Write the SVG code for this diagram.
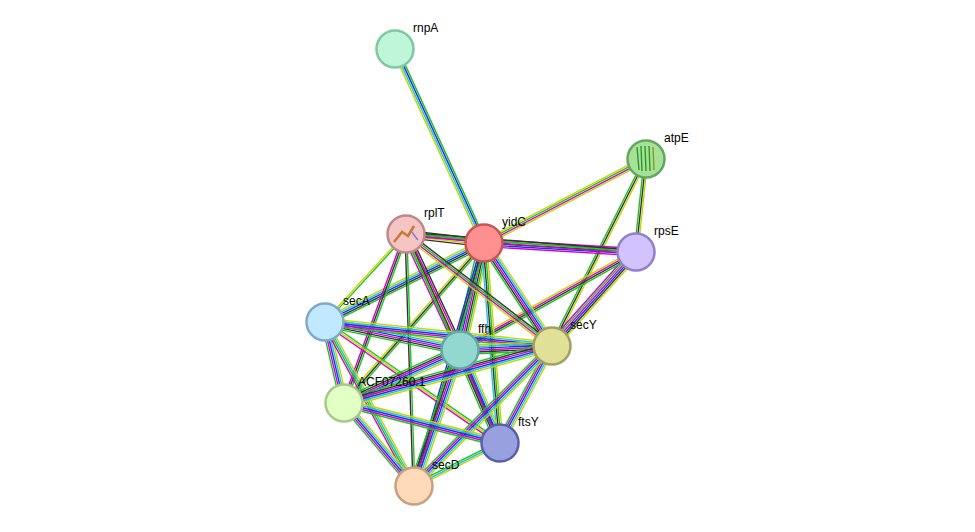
<svg xmlns="http://www.w3.org/2000/svg" width="975" height="532" viewBox="0 0 975 532">
<style>
line{stroke-width:1.4;fill:none}
.G{stroke:#22c022}.Y{stroke:#c4d600}.K{stroke:#333}.M{stroke:#d000d0}.C{stroke:#22c4d8}.B{stroke:#2030e0}
.n circle{stroke-width:2.5}
text{font-family:"Liberation Sans",Arial,sans-serif;font-size:12px;fill:#000}
</style>
<rect width="975" height="532" fill="#fff"/>
<g id="edges">
<g transform="translate(395,49) rotate(65.4)"><line class="G" x2="213.4" y1="-2.7" y2="-2.7"/><line class="B" x2="213.4" y1="-0.9" y2="-0.9"/><line class="C" x2="213.4" y1="0.9" y2="0.9"/><line class="Y" x2="213.4" y1="2.7" y2="2.7"/></g>
<g transform="translate(646,159) rotate(152.6)"><line class="Y" x2="182.5" y1="-2.7" y2="-2.7"/><line class="M" x2="182.5" y1="-0.9" y2="-0.9"/><line class="G" x2="182.5" y1="0.9" y2="0.9"/><line class="Y" x2="182.5" y1="2.7" y2="2.7"/></g>
<g transform="translate(646,159) rotate(96.1)"><line class="Y" x2="93.5" y1="-1.8" y2="-1.8"/><line class="K" x2="93.5"/><line class="G" x2="93.5" y1="1.8" y2="1.8"/></g>
<g transform="translate(646,159) rotate(116.7)"><line class="Y" x2="209.3" y1="-1.8" y2="-1.8"/><line class="K" x2="209.3"/><line class="G" x2="209.3" y1="1.8" y2="1.8"/></g>
<g transform="translate(406,234) rotate(6.6)"><line class="K" x2="78.5" y1="-3.6" y2="-3.6"/><line class="G" x2="78.5" y1="-1.8" y2="-1.8"/><line class="M" x2="78.5"/><line class="Y" x2="78.5" y1="1.8" y2="1.8"/><line class="K" x2="78.5" y1="3.6" y2="3.6"/></g>
<g transform="translate(484,243) rotate(3.4)"><line class="M" x2="152.3" y1="-3.6" y2="-3.6"/><line class="G" x2="152.3" y1="-1.8" y2="-1.8"/><line class="K" x2="152.3"/><line class="B" x2="152.3" y1="1.8" y2="1.8"/><line class="M" x2="152.3" y1="3.6" y2="3.6"/></g>
<g transform="translate(406,234) rotate(4.5)"><line class="K" x2="230.7" y1="-1.8" y2="-1.8"/><line class="G" x2="230.7"/><line class="M" x2="230.7" y1="1.8" y2="1.8"/></g>
<g transform="translate(636,252) rotate(131.8)"><line class="Y" x2="126" y1="-4.5" y2="-4.5"/><line class="K" x2="126" y1="-2.7" y2="-2.7"/><line class="B" x2="126" y1="-0.9" y2="-0.9"/><line class="M" x2="126" y1="0.9" y2="0.9"/><line class="G" x2="126" y1="2.7" y2="2.7"/><line class="M" x2="126" y1="4.5" y2="4.5"/></g>
<g transform="translate(636,252) rotate(150.9)"><line class="G" x2="201.4" y1="-2.7" y2="-2.7"/><line class="K" x2="201.4" y1="-0.9" y2="-0.9"/><line class="M" x2="201.4" y1="0.9" y2="0.9"/><line class="Y" x2="201.4" y1="2.7" y2="2.7"/></g>
<g transform="translate(484,243) rotate(56.6)"><line class="Y" x2="123.4" y1="-4.5" y2="-4.5"/><line class="C" x2="123.4" y1="-2.7" y2="-2.7"/><line class="B" x2="123.4" y1="-0.9" y2="-0.9"/><line class="M" x2="123.4" y1="0.9" y2="0.9"/><line class="K" x2="123.4" y1="2.7" y2="2.7"/><line class="G" x2="123.4" y1="4.5" y2="4.5"/></g>
<g transform="translate(484,243) rotate(102.6)"><line class="Y" x2="109.7" y1="-5.4" y2="-5.4"/><line class="G" x2="109.7" y1="-3.6" y2="-3.6"/><line class="K" x2="109.7" y1="-1.8" y2="-1.8"/><line class="M" x2="109.7"/><line class="B" x2="109.7" y1="1.8" y2="1.8"/><line class="C" x2="109.7" y1="3.6" y2="3.6"/><line class="G" x2="109.7" y1="5.4" y2="5.4"/></g>
<g transform="translate(484,243) rotate(153.6)"><line class="G" x2="177.5" y1="-3.6" y2="-3.6"/><line class="K" x2="177.5" y1="-1.8" y2="-1.8"/><line class="B" x2="177.5"/><line class="C" x2="177.5" y1="1.8" y2="1.8"/><line class="Y" x2="177.5" y1="3.6" y2="3.6"/></g>
<g transform="translate(484,243) rotate(131.2)"><line class="G" x2="212.6" y1="-1.8" y2="-1.8"/><line class="K" x2="212.6"/><line class="Y" x2="212.6" y1="1.8" y2="1.8"/></g>
<g transform="translate(484,243) rotate(85.4)"><line class="Y" x2="200.6" y1="-2.7" y2="-2.7"/><line class="G" x2="200.6" y1="-0.9" y2="-0.9"/><line class="K" x2="200.6" y1="0.9" y2="0.9"/><line class="C" x2="200.6" y1="2.7" y2="2.7"/></g>
<g transform="translate(484,243) rotate(106.1)"><line class="G" x2="252.9" y1="-1.8" y2="-1.8"/><line class="K" x2="252.9"/><line class="B" x2="252.9" y1="1.8" y2="1.8"/></g>
<g transform="translate(406,234) rotate(132.6)"><line class="G" x2="119.6" y1="-0.9" y2="-0.9"/><line class="Y" x2="119.6" y1="0.9" y2="0.9"/></g>
<g transform="translate(406,234) rotate(65)"><line class="K" x2="128" y1="-3.6" y2="-3.6"/><line class="M" x2="128" y1="-1.8" y2="-1.8"/><line class="Y" x2="128"/><line class="G" x2="128" y1="1.8" y2="1.8"/><line class="M" x2="128" y1="3.6" y2="3.6"/></g>
<g transform="translate(406,234) rotate(37.5)"><line class="K" x2="184" y1="-2.7" y2="-2.7"/><line class="G" x2="184" y1="-0.9" y2="-0.9"/><line class="M" x2="184" y1="0.9" y2="0.9"/><line class="Y" x2="184" y1="2.7" y2="2.7"/></g>
<g transform="translate(406,234) rotate(110.1)"><line class="G" x2="180" y1="-1.8" y2="-1.8"/><line class="K" x2="180"/><line class="M" x2="180" y1="1.8" y2="1.8"/></g>
<g transform="translate(406,234) rotate(65.8)"><line class="K" x2="229.2" y1="-0.9" y2="-0.9"/><line class="G" x2="229.2" y1="0.9" y2="0.9"/></g>
<g transform="translate(406,234) rotate(88.2)"><line class="G" x2="252.1" y1="-0.9" y2="-0.9"/><line class="K" x2="252.1" y1="0.9" y2="0.9"/></g>
<g transform="translate(325,322) rotate(11.7)"><line class="Y" x2="137.9" y1="-4.5" y2="-4.5"/><line class="C" x2="137.9" y1="-2.7" y2="-2.7"/><line class="B" x2="137.9" y1="-0.9" y2="-0.9"/><line class="M" x2="137.9" y1="0.9" y2="0.9"/><line class="K" x2="137.9" y1="2.7" y2="2.7"/><line class="G" x2="137.9" y1="4.5" y2="4.5"/></g>
<g transform="translate(325,322) rotate(6)"><line class="Y" x2="228.3" y1="-3.6" y2="-3.6"/><line class="C" x2="228.3" y1="-1.8" y2="-1.8"/><line class="B" x2="228.3"/><line class="M" x2="228.3" y1="1.8" y2="1.8"/><line class="G" x2="228.3" y1="3.6" y2="3.6"/></g>
<g transform="translate(325,322) rotate(76.8)"><line class="Y" x2="83.2" y1="-3.6" y2="-3.6"/><line class="C" x2="83.2" y1="-1.8" y2="-1.8"/><line class="B" x2="83.2"/><line class="M" x2="83.2" y1="1.8" y2="1.8"/><line class="G" x2="83.2" y1="3.6" y2="3.6"/></g>
<g transform="translate(325,322) rotate(34.7)"><line class="G" x2="212.8" y1="-1.8" y2="-1.8"/><line class="Y" x2="212.8"/><line class="M" x2="212.8" y1="1.8" y2="1.8"/></g>
<g transform="translate(325,322) rotate(61.5)"><line class="Y" x2="186.6" y1="-2.7" y2="-2.7"/><line class="C" x2="186.6" y1="-0.9" y2="-0.9"/><line class="G" x2="186.6" y1="0.9" y2="0.9"/><line class="M" x2="186.6" y1="2.7" y2="2.7"/></g>
<g transform="translate(460,350) rotate(-2.5)"><line class="Y" x2="92.1" y1="-4.5" y2="-4.5"/><line class="C" x2="92.1" y1="-2.7" y2="-2.7"/><line class="B" x2="92.1" y1="-0.9" y2="-0.9"/><line class="M" x2="92.1" y1="0.9" y2="0.9"/><line class="K" x2="92.1" y1="2.7" y2="2.7"/><line class="G" x2="92.1" y1="4.5" y2="4.5"/></g>
<g transform="translate(460,350) rotate(155.4)"><line class="Y" x2="127.5" y1="-4.5" y2="-4.5"/><line class="C" x2="127.5" y1="-2.7" y2="-2.7"/><line class="B" x2="127.5" y1="-0.9" y2="-0.9"/><line class="M" x2="127.5" y1="0.9" y2="0.9"/><line class="K" x2="127.5" y1="2.7" y2="2.7"/><line class="G" x2="127.5" y1="4.5" y2="4.5"/></g>
<g transform="translate(460,350) rotate(66.7)"><line class="Y" x2="101.2" y1="-4.5" y2="-4.5"/><line class="C" x2="101.2" y1="-2.7" y2="-2.7"/><line class="B" x2="101.2" y1="-0.9" y2="-0.9"/><line class="M" x2="101.2" y1="0.9" y2="0.9"/><line class="K" x2="101.2" y1="2.7" y2="2.7"/><line class="G" x2="101.2" y1="4.5" y2="4.5"/></g>
<g transform="translate(460,350) rotate(108.7)"><line class="Y" x2="143.6" y1="-4.5" y2="-4.5"/><line class="C" x2="143.6" y1="-2.7" y2="-2.7"/><line class="B" x2="143.6" y1="-0.9" y2="-0.9"/><line class="M" x2="143.6" y1="0.9" y2="0.9"/><line class="K" x2="143.6" y1="2.7" y2="2.7"/><line class="G" x2="143.6" y1="4.5" y2="4.5"/></g>
<g transform="translate(552,346) rotate(164.7)"><line class="Y" x2="215.7" y1="-4.5" y2="-4.5"/><line class="C" x2="215.7" y1="-2.7" y2="-2.7"/><line class="B" x2="215.7" y1="-0.9" y2="-0.9"/><line class="M" x2="215.7" y1="0.9" y2="0.9"/><line class="K" x2="215.7" y1="2.7" y2="2.7"/><line class="G" x2="215.7" y1="4.5" y2="4.5"/></g>
<g transform="translate(552,346) rotate(118.2)"><line class="Y" x2="110.1" y1="-3.6" y2="-3.6"/><line class="C" x2="110.1" y1="-1.8" y2="-1.8"/><line class="B" x2="110.1"/><line class="M" x2="110.1" y1="1.8" y2="1.8"/><line class="G" x2="110.1" y1="3.6" y2="3.6"/></g>
<g transform="translate(552,346) rotate(134.6)"><line class="Y" x2="196.6" y1="-3.6" y2="-3.6"/><line class="C" x2="196.6" y1="-1.8" y2="-1.8"/><line class="B" x2="196.6"/><line class="M" x2="196.6" y1="1.8" y2="1.8"/><line class="G" x2="196.6" y1="3.6" y2="3.6"/></g>
<g transform="translate(344,403) rotate(14.4)"><line class="Y" x2="161" y1="-3.6" y2="-3.6"/><line class="C" x2="161" y1="-1.8" y2="-1.8"/><line class="B" x2="161"/><line class="M" x2="161" y1="1.8" y2="1.8"/><line class="G" x2="161" y1="3.6" y2="3.6"/></g>
<g transform="translate(344,403) rotate(49.9)"><line class="Y" x2="108.6" y1="-3.6" y2="-3.6"/><line class="C" x2="108.6" y1="-1.8" y2="-1.8"/><line class="B" x2="108.6"/><line class="M" x2="108.6" y1="1.8" y2="1.8"/><line class="G" x2="108.6" y1="3.6" y2="3.6"/></g>
<g transform="translate(500,443) rotate(153.4)"><line class="Y" x2="96.2" y1="-1.8" y2="-1.8"/><line class="C" x2="96.2"/><line class="G" x2="96.2" y1="1.8" y2="1.8"/></g>
</g>
<g id="rnpA" class="n"><circle cx="395" cy="49" r="18.5" fill="#bff5d8" stroke="#80c8a0"/><text x="413" y="32">rnpA</text></g>
<g id="atpE" class="n"><circle cx="646" cy="159" r="18.5" fill="#a8e098" stroke="#60a860"/><g stroke="#2a9a2a" stroke-width="1.2"><line x1="637" y1="147" x2="639" y2="170"/><line x1="641" y1="146" x2="642" y2="171"/><line x1="645" y1="146" x2="646" y2="171"/><line x1="649" y1="146" x2="650" y2="171"/><line x1="653" y1="147" x2="654" y2="170" stroke="#7aa020"/></g><text x="664" y="142">atpE</text></g>
<g id="rplT" class="n"><circle cx="406" cy="234" r="18.5" fill="#f5c4c4" stroke="#c08888"/><path d="M394 242 L402 232 L408 236 L414 226" stroke="#c87830" stroke-width="2.5" fill="none"/><path d="M412 232 q4 6 6 8" stroke="#8080d0" stroke-width="1.5" fill="none"/><text x="424" y="217">rplT</text></g>
<g id="yidC" class="n"><circle cx="484" cy="243" r="18.5" fill="#ff9090" stroke="#c85555"/><text x="502" y="226">yidC</text></g>
<g id="rpsE" class="n"><circle cx="636" cy="252" r="18.5" fill="#d2c2ff" stroke="#9080c8"/><text x="654" y="235">rpsE</text></g>
<g id="secA" class="n"><circle cx="325" cy="322" r="18.5" fill="#c0e8ff" stroke="#80a8c8"/><text x="343" y="305">secA</text></g>
<g id="ffh" class="n"><circle cx="460" cy="350" r="18.5" fill="#92d8d0" stroke="#60a8a0"/><text x="478" y="333">ffh</text></g>
<g id="secY" class="n"><circle cx="552" cy="346" r="18.5" fill="#e0e098" stroke="#a0a060"/><text x="570" y="329">secY</text></g>
<g id="ACF07260.1" class="n"><circle cx="344" cy="403" r="18.5" fill="#e2ffc4" stroke="#a8c888"/><text x="358" y="386">ACF07260.1</text></g>
<g id="ftsY" class="n"><circle cx="500" cy="443" r="18.5" fill="#98a0e0" stroke="#5860a8"/><text x="518" y="426">ftsY</text></g>
<g id="secD" class="n"><circle cx="414" cy="486" r="18.5" fill="#ffdab8" stroke="#c8a080"/><text x="432" y="469">secD</text></g>
</svg>
